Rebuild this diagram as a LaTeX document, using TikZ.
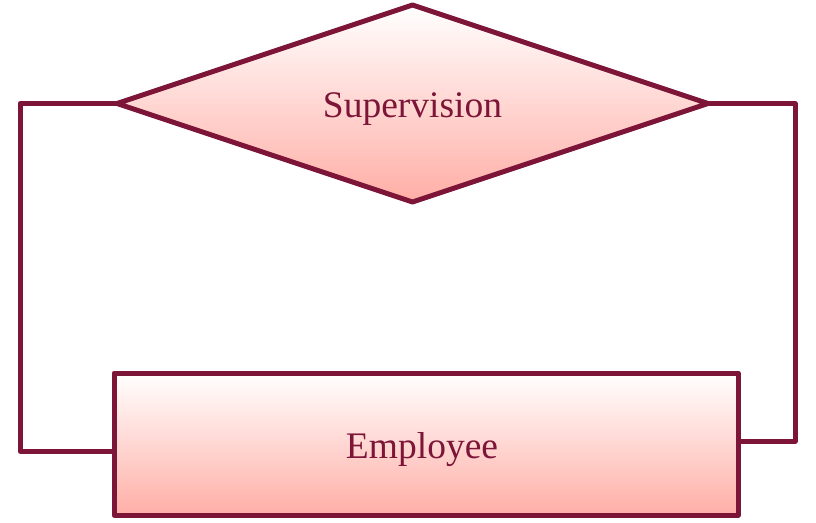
\documentclass[tikz,border=0pt]{standalone}
\usepackage{fontspec}
\setmainfont{Liberation Serif}
\usetikzlibrary{shapes.geometric}
\definecolor{erline}{HTML}{7D1538}
\definecolor{erfill}{HTML}{FFAEA6}
\tikzset{
  erbox/.style={draw=erline, line width=5pt, top color=white, bottom color=erfill,
    text=erline, font=\fontsize{37.5}{40}\selectfont, inner sep=0pt, outer sep=0pt, line join=round},
  erlink/.style={draw=erline, line width=5pt, line join=round}
}
\begin{document}
\begin{tikzpicture}[x=1pt,y=-1pt]
\useasboundingbox (0,0) rectangle (816,522);
\node[erbox, diamond, minimum width=591pt, minimum height=197pt, aspect=3] (sup) at (412.5,103.5) {\raisebox{-6pt}[\height][\depth]{Supervision}};
\node[erbox, rectangle, minimum width=624pt, minimum height=142pt] (emp) at (426,444) {\hspace*{-8pt}\raisebox{-6pt}[\height][\depth]{Employee}};
\draw[erlink] (sup.west) -- ++(-97,0) |- ([yshift=-7pt]emp.west);
\draw[erlink] (sup.east) -- ++(87,0) |- ([yshift=3pt]emp.east);
\end{tikzpicture}
\end{document}
